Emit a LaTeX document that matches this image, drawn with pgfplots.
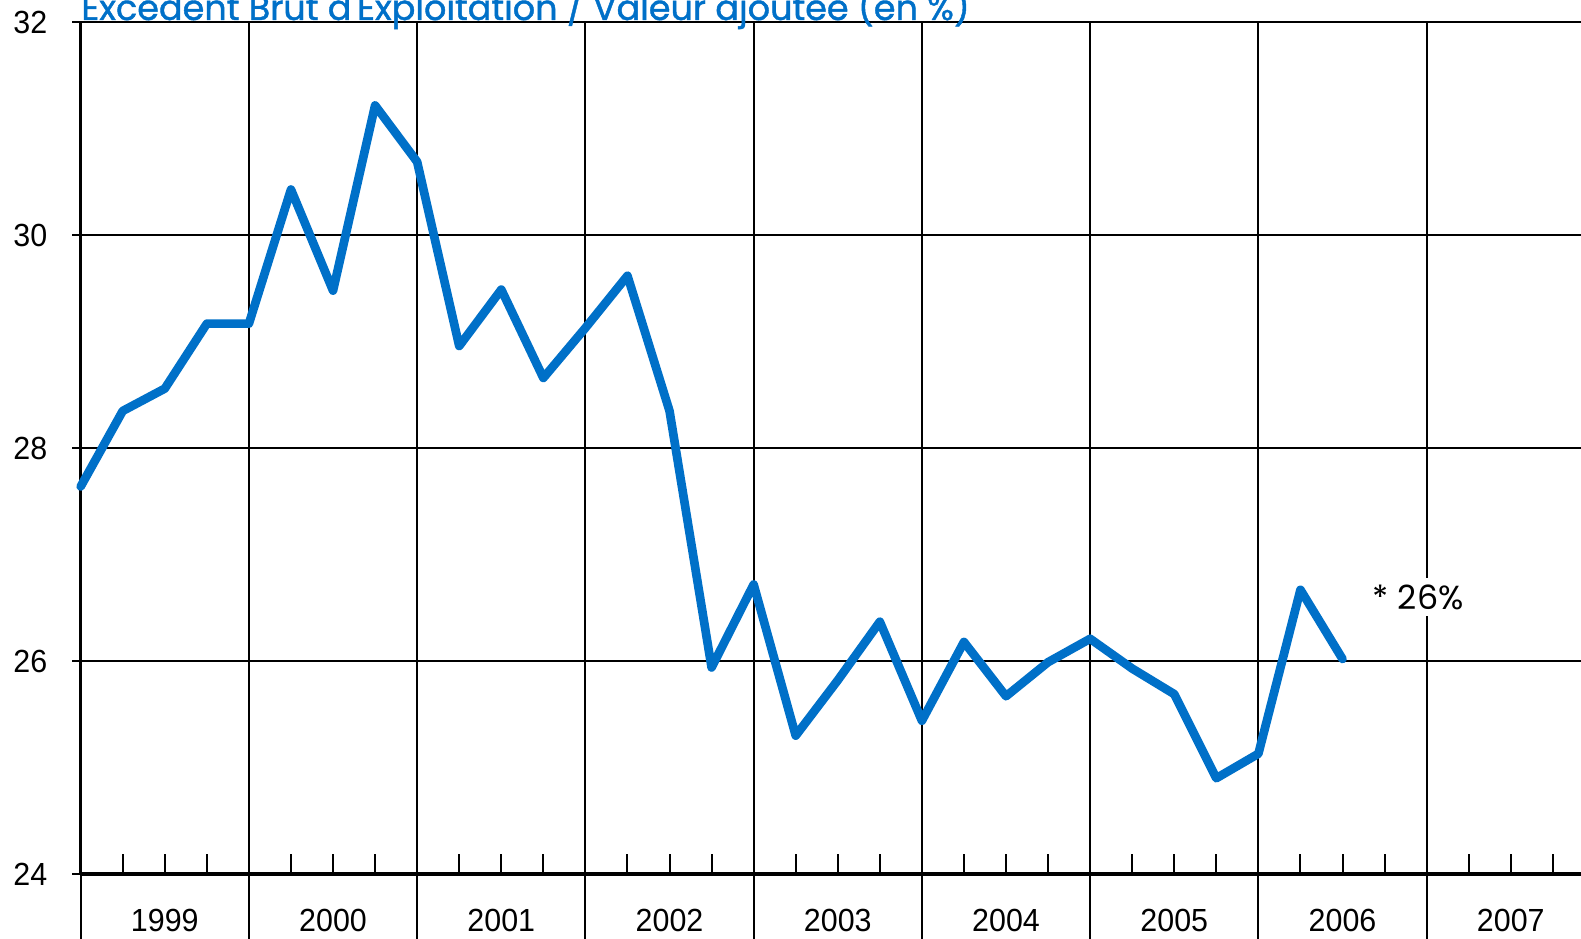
\documentclass[border=0pt]{standalone}
\usepackage{fontspec}
\setmainfont{Liberation Sans}
\newfontfamily\narrow[FakeStretch=0.95]{Liberation Sans}
\newfontfamily\titlefont[FakeBold=1.2]{Poppins}
\newfontfamily\notefont{Poppins}
\usepackage{pgfplots}
\pgfplotsset{compat=1.18}
\definecolor{EBEblue}{HTML}{0070C8}

\pgfplotstableread{
q   ebe
0   27.64
1   28.35
2   28.56
3   29.17
4   29.17
5   30.43
6   29.48
7   31.22
8   30.69
9   28.96
10  29.49
11  28.66
12  29.13
13  29.62
14  28.35
15  25.94
16  26.72
17  25.30
18  25.82
19  26.37
20  25.44
21  26.18
22  25.67
23  25.99
24  26.21
25  25.93
26  25.69
27  24.90
28  25.13
29  26.67
30  26.02
}\ebedata

\begin{document}
\begin{tikzpicture}
  % page: axis box corner at (0,0)
  \useasboundingbox (-24.2pt,-19.2pt) rectangle ++(474.3pt,281.4pt);
  \begin{axis}[
      anchor=south west,
      scale only axis, width=450.1pt, height=255.5pt,
      xmin=0, xmax=35.67, ymin=24, ymax=32,
      clip=false,
      axis x line=bottom, axis y line=left,
      axis line style={-, line width=1pt, black},
      tick align=outside,
      major tick length=2.5pt,
      minor tick length=6pt,
      xtick={4,8,...,32}, xticklabels={},
      every major x tick/.append style={draw=none},
      minor xtick={1,2,3,5,6,7,9,10,11,13,14,15,17,18,19,21,22,23,25,26,27,29,30,31,33,34,35},
      every minor x tick/.append style={yshift=6pt, line width=0.6pt, black},
      ytick={24,26,28,30,32},
      yticklabels={24,26,28,30,32},
      ytick style={line width=0.55pt, black},
      yticklabel style={font=\narrow\fontsize{9.6}{10}\selectfont, xshift=-4pt},
      xmajorgrids, ymajorgrids,
      grid style={line width=0.55pt, black},
    ]
    \addplot[EBEblue, line width=2.6pt, line join=round, line cap=round]
      table[x=q, y=ebe] {\ebedata};
    % separators below the axis and year labels
    \pgfplotsinvokeforeach{0,4,8,12,16,20,24,28,32}{
      \draw[line width=0.55pt] (axis cs:#1,24) -- ++(0,-17.5pt);
    }
    \pgfplotsinvokeforeach{0,...,8}{
      \node[anchor=base, inner sep=0pt, font=\narrow\fontsize{9.6}{10}\selectfont]
        at ([yshift=-17.2pt]axis cs:{4*#1+2},24) {\pgfmathparse{int(1999+#1)}\pgfmathresult};
    }
    \node[fill=white, inner sep=2pt, font=\notefont\fontsize{10}{12}\selectfont]
      at (axis cs:31.8,26.6) {* 26\%};
  \end{axis}
  \node[anchor=base west, inner sep=0pt, text=EBEblue,
        font=\titlefont\fontsize{10.5}{12}\selectfont]
    at (0pt,256.2pt) {Excedent Brut d'Exploitation / Valeur ajoutée (en \%)};
\end{tikzpicture}
\end{document}
